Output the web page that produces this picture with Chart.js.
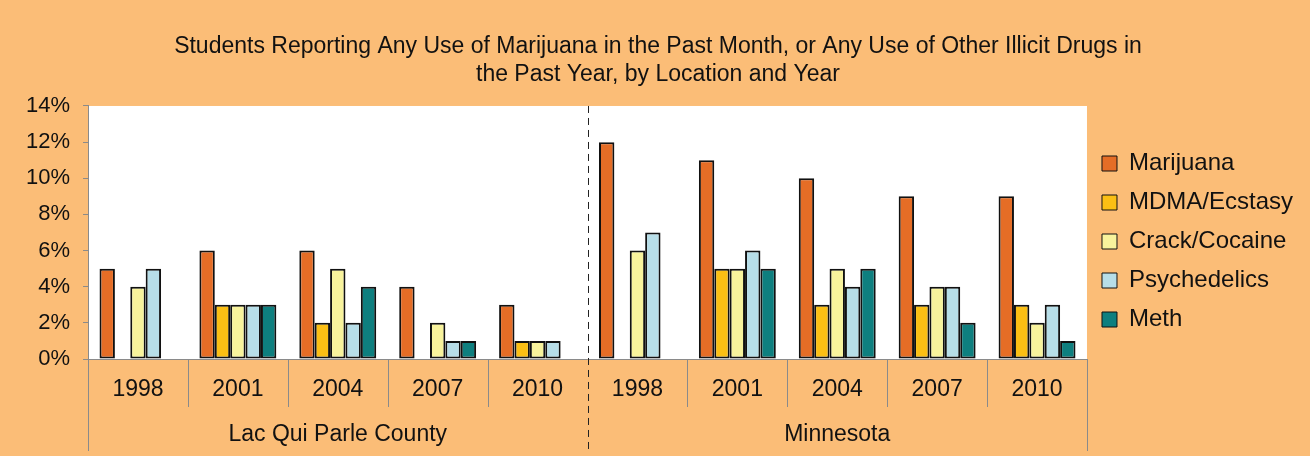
<!DOCTYPE html>
<html lang="en">
<head>
  <meta charset="UTF-8" />
  <title>Students Reporting Drug Use</title>
  <script src="https://cdn.jsdelivr.net/npm/chart.js"></script>
  <style>
    body {
      margin: 0;
      padding: 0;
      background: #FBBD77;
    }
    canvas { display: block; }
  </style>
</head>
<body>
  <canvas id="drugChart" width="1310" height="456"></canvas>

  <script>
    // categories
    const years = ["1998", "2001", "2004", "2007", "2010", "1998", "2001", "2004", "2007", "2010"];
    const groups = ["Lac Qui Parle County", "Minnesota"];

    // percent of students, Lac Qui Parle first then Minnesota
    const marijuana    = [5, 6, 6, 4, 3, 12, 11, 10, 9, 9];
    const mdma         = [0, 3, 2, 0, 1, 0, 5, 3, 3, 3];
    const crackCocaine = [4, 3, 5, 2, 1, 6, 5, 5, 4, 2];
    const psychedelics = [5, 3, 2, 1, 1, 7, 6, 4, 4, 3];
    const meth         = [0, 3, 4, 1, 0, 0, 5, 5, 2, 1];

    const yTicks = [0, 2, 4, 6, 8, 10, 12, 14];

    const font = "'Liberation Sans', Arial, sans-serif";
    const grey = "#8a8a8a";
    const ink = "#111";

    // orange page, white plot area, separators under the axis
    const framePlugin = {
      id: "frame",
      beforeDraw(chart) {
        const ctx = chart.ctx;
        const a = chart.chartArea;
        ctx.save();
        ctx.fillStyle = "#FBBD77";
        ctx.fillRect(0, 0, chart.width, chart.height);
        ctx.fillStyle = "#ffffff";
        ctx.fillRect(a.left, a.top, a.right - a.left, a.bottom - a.top);
        ctx.restore();
      },
      afterDraw(chart) {
        const ctx = chart.ctx;
        const x = chart.scales.x;
        const a = chart.chartArea;
        const end = chart.scales.x2.bottom;
        const yearEnd = x.bottom;
        const line = (px, y0, y1) => {
          ctx.beginPath();
          ctx.moveTo(px, y0);
          ctx.lineTo(px, y1);
          ctx.stroke();
        };
        ctx.save();
        ctx.lineWidth = 1;
        ctx.strokeStyle = grey;
        for (let i = 1; i < years.length; i++) {
          if (i === years.length / 2) continue;
          line(Math.round(x.getPixelForValue(i - 0.5)) + 0.5, a.bottom, yearEnd);
        }
        line(Math.round(x.getPixelForValue(-0.5)) + 0.5, a.bottom, end);
        line(Math.round(x.getPixelForValue(years.length - 0.5)) + 0.5, a.bottom, end);
        const mid = Math.round(x.getPixelForValue(years.length / 2 - 0.5)) + 0.5;
        ctx.strokeStyle = "#222";
        ctx.setLineDash([7, 5]);
        line(mid, a.top, end);
        ctx.restore();
      }
    };

    function series(label, data, color) {
      return {
        label,
        data,
        backgroundColor: color,
        borderColor: ink,
        borderWidth: c => (c.raw ? 2 : 0),
        borderSkipped: false,
        categoryPercentage: 0.77,
        barPercentage: 1.0
      };
    }

    new Chart(document.getElementById("drugChart"), {
      type: "bar",
      data: {
        labels: years,
        datasets: [
          series("Marijuana", marijuana, "#E56D26"),
          series("MDMA/Ecstasy", mdma, "#FBBF14"),
          series("Crack/Cocaine", crackCocaine, "#F8F39C"),
          series("Psychedelics", psychedelics, "#B7DEE8"),
          series("Meth", meth, "#0E7F7F")
        ]
      },
      options: {
        responsive: false,
        animation: false,
        layout: { padding: { left: 13, right: 7, top: 0, bottom: 5 } },
        plugins: {
          title: {
            display: true,
            text: [
              "Students Reporting Any Use of Marijuana in the Past Month, or Any Use of Other Illicit Drugs in",
              "the Past Year, by Location and Year"
            ],
            color: ink,
            font: { family: font, size: 23, weight: "normal", lineHeight: 1.217 },
            padding: { top: 33, bottom: 17 }
          },
          legend: {
            position: "right",
            // empty title only nudges the entries down a little
            title: {
              display: true,
              text: " ",
              color: "rgba(0,0,0,0)",
              font: { size: 10, lineHeight: 1.2 },
              padding: { top: 0, bottom: 20 }
            },
            labels: {
              color: ink,
              font: { family: font, size: 24 },
              boxWidth: 15,
              boxHeight: 15,
              padding: 15,
              generateLabels(chart) {
                return chart.data.datasets.map((d, i) => ({
                  text: d.label,
                  fillStyle: d.backgroundColor,
                  strokeStyle: ink,
                  fontColor: ink,
                  lineWidth: 1,
                  hidden: false,
                  datasetIndex: i
                }));
              }
            }
          },
          tooltip: { enabled: false }
        },
        scales: {
          x: {
            offset: true,
            grid: {
              offset: true,
              drawOnChartArea: false,
              drawTicks: false,
              color: grey
            },
            border: { color: grey },
            ticks: {
              color: ink,
              font: { family: font, size: 23 },
              padding: 17
            },
            afterFit(scale) { scale.height = 48; }
          },
          x2: {
            type: "category",
            labels: groups,
            position: "bottom",
            offset: true,
            grid: { display: false },
            border: { display: false },
            ticks: {
              color: ink,
              font: { family: font, size: 23 },
              padding: 6
            },
            afterFit(scale) { scale.height = 44; }
          },
          y: {
            min: 0,
            max: 14,
            afterBuildTicks(scale) {
              scale.ticks = yTicks.map(v => ({ value: v }));
            },
            grid: {
              drawOnChartArea: false,
              tickLength: 5,
              color: grey
            },
            border: { color: grey },
            ticks: {
              color: ink,
              font: { family: font, size: 22 },
              padding: 13,
              callback: v => v + "%"
            }
          }
        }
      },
      plugins: [framePlugin]
    });
  </script>
</body>
</html>
